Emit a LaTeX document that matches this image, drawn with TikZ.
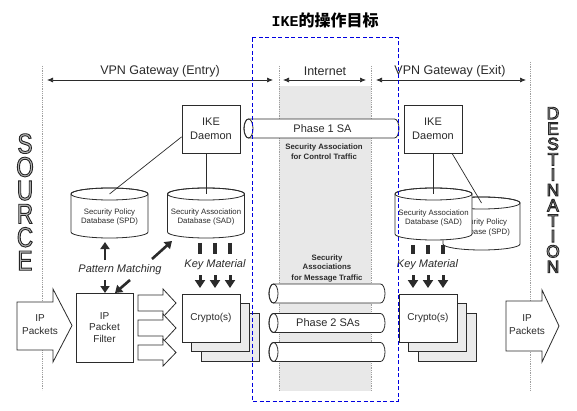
\documentclass[tikz,border=0pt]{standalone}
\usepackage{fontspec}
\setmainfont{Liberation Sans}
\newfontfamily\cjk{Noto Sans CJK SC}
\newfontfamily\monob{Liberation Mono}
\newfontfamily\narrowsans{Liberation Sans}[FakeStretch=0.8]
\usetikzlibrary{arrows.meta}

\definecolor{ink}{HTML}{2B2B2B}
\definecolor{band}{HTML}{E8E8E8}
\definecolor{shade}{HTML}{EBEBEB}
\definecolor{frame}{HTML}{0000E0}

% hollow letters: grey fill, dark stroke
\newcommand{\hollow}[1]{\special{pdf:literal direct 0.15 0.15 0.15 RG 0.9 w 2 Tr}#1\special{pdf:literal direct 0 Tr}}

\tikzset{
  box/.style={draw=ink, fill=white, line width=0.8pt, inner sep=0pt, align=center, text=ink, font=\fontsize{10}{11.5}\selectfont},
  dbtext/.style={inner sep=0pt, align=center, text=ink, font=\fontsize{7.8}{9.4}\selectfont},
  boldnote/.style={inner sep=0pt, align=center, text=ink, font=\bfseries\fontsize{7.8}{10}\selectfont},
  header/.style={text=ink, font=\fontsize{12.5}{14}\selectfont},
  keylabel/.style={text=ink, font=\itshape\fontsize{11}{13}\selectfont},
  span/.style={ink, line width=0.7pt, {Latex[length=6pt,width=5pt]}-{Latex[length=6pt,width=5pt]}},
  border/.style={gray!75, line width=0.8pt, densely dotted},
  heavy/.style={ink, line width=2.6pt, -{Triangle[length=7pt,width=9pt]}},
  keyarrow/.style={ink, line width=3pt, -{Triangle[length=8pt,width=10pt]}},
  keybar/.style={ink, line width=3.5pt},
  fatarrow/.style={draw=ink, fill=white, line width=0.8pt}
}

% database drum: name, centre x, top y, bottom y, two text lines
\newcommand{\dbcyl}[6]{%
  \filldraw[draw=ink, fill=white, line width=0.8pt] (#2-38.5,#3) -- (#2-38.5,#4) arc[start angle=180,end angle=0,x radius=38.5,y radius=6] -- (#2+38.5,#3) arc[start angle=0,end angle=-180,x radius=38.5,y radius=6] -- cycle;
  \draw[ink, line width=0.8pt] (#2,#3) ellipse[x radius=38.5,y radius=6];
  \coordinate (#1 top) at (#2,#3);
  \node[dbtext] (#1) at (#2,{(#3+#4)/2+4}) {#5\\#6};
}
% SA tube: name, left x, right x, centre y, text
\newcommand{\satube}[5]{%
  \filldraw[draw=ink, fill=white, line width=0.8pt] (#2+4.5,#4-9.5) -- (#3-4.5,#4-9.5) arc[start angle=-90,end angle=90,x radius=4.5,y radius=9.5] -- (#2+4.5,#4+9.5) arc[start angle=90,end angle=270,x radius=4.5,y radius=9.5] -- cycle;
  \draw[ink, line width=0.8pt] (#2+4.5,#4) ellipse[x radius=4.5,y radius=9.5];
  \node[text=ink, font=\fontsize{11}{13}\selectfont] (#1) at ({(#2+#3)/2+1},#4) {#5};
}

\begin{document}
\begin{tikzpicture}[x=1pt, y=-1pt]
\useasboundingbox[fill=white] (0,0) rectangle (577,411);

% internet band and borders
\fill[band] (279,86) rectangle (371,391);
\draw[border] (42,66) -- (42,390);
\draw[border] (279,66) -- (279,391);
\draw[border] (371,66) -- (371,391);
\draw[border] (530,62) -- (530,390);

\node[header] (entry) at (160,71) {VPN Gateway (Entry)};
\node[header] (inet) at (325,71) {Internet};
\node[header] (exit) at (450,71) {VPN Gateway (Exit)};
\draw[span] (47,80) -- (273,80);
\draw[span] (283,80) -- (366,80);
\draw[span] (376,80) -- (526,80);

% source / destination
\node[inner sep=0pt, align=center, text=gray!55, font=\narrowsans\fontsize{28}{23.4}\selectfont] (source) at (25,202)
  {\hollow{S}\\\hollow{O}\\\hollow{U}\\\hollow{R}\\\hollow{C}\\\hollow{E}};
\node[inner sep=0pt, align=center, text=gray!55, font=\fontsize{17.5}{15.35}\selectfont] (dest) at (553,190)
  {\hollow{D}\\\hollow{E}\\\hollow{S}\\\hollow{T}\\\hollow{I}\\\hollow{N}\\\hollow{A}\\\hollow{T}\\\hollow{I}\\\hollow{O}\\\hollow{N}};

% IKE daemons
\node[box, minimum width=58, minimum height=48, font=\fontsize{11}{13.5}\selectfont] (ikeL) at (211,129) {IKE\\Daemon};
\node[box, minimum width=58, minimum height=48, font=\fontsize{11}{13.5}\selectfont] (ikeR) at (433,129) {IKE\\Daemon};

% databases
\dbcyl{spdL}{109.5}{194}{232}{Security Policy}{Database (SPD)}
\dbcyl{sadL}{206}{194}{232}{Security Association}{Database (SAD)}
\dbcyl{spdR}{481.5}{203}{244}{Security Policy}{Database (SPD)}
\dbcyl{sadR}{433.5}{194}{234}{Security Association}{Database (SAD)}

\draw[ink, line width=0.7pt] (ikeL.195) -- (spdL top);
\draw[ink, line width=0.7pt] (sadL top |- ikeL.south) -- (sadL top);
\draw[ink, line width=0.7pt] (sadR top |- ikeR.south) -- (sadR top);
\draw[ink, line width=0.7pt] (ikeR.-52) -- (spdR top);

% security associations
\satube{p1}{244}{399}{128.5}{Phase 1 SA}
\node[boldnote] (ctrl) at (324,151.5) {Security Association\\for Control Traffic};
\node[boldnote] (msg) at (327,268) {Security\\Associations\\for Message Traffic};
\satube{p2a}{269}{385}{293.5}{}
\satube{p2b}{269}{385}{323}{Phase 2 SAs}
\satube{p2c}{269}{385}{352}{}

% pattern matching and key material
\node[keylabel] (pm) at (120,270) {Pattern Matching};
\node[keylabel] (kmL) at (215,265) {Key Material};
\node[keylabel] (kmR) at (427.5,265) {Key Material};
\draw[heavy] (105,260) -- (105,242);
\draw[heavy] (152,259) -- (172,241);
\draw[heavy] (105,280) -- (105,293);
\draw[heavy] (130,280) -- (115,293);

\draw[keybar] (200,243) -- (200,254);
\draw[keybar] (215,243) -- (215,254);
\draw[keybar] (230,243) -- (230,254);
\draw[keyarrow] (200,275) -- (200,288);
\draw[keyarrow] (215,275) -- (215,288);
\draw[keyarrow] (230,275) -- (230,288);
\draw[keybar] (413,245) -- (413,254);
\draw[keybar] (428,245) -- (428,254);
\draw[keybar] (443,245) -- (443,254);
\draw[keyarrow] (413,275) -- (413,288);
\draw[keyarrow] (428,275) -- (428,288);
\draw[keyarrow] (443,275) -- (443,288);

% packet path
\draw[fatarrow] (17,302) -- (53,302) -- (53,289) -- (72,325.5) -- (53,362) -- (53,350) -- (17,350) -- cycle;
\node[text=ink, align=center, font=\fontsize{10}{13}\selectfont] (inpk) at (40,325) {IP\\Packets};
\node[box, minimum width=57, minimum height=69] (filter) at (104.5,327.5) {IP\\Packet\\Filter};
\draw[fatarrow] (138,295) -- (163,295) -- (163,289) -- (176,303) -- (163,317) -- (163,311) -- (138,311) -- cycle;
\draw[fatarrow] (138,320) -- (163,320) -- (163,314) -- (176,328) -- (163,342) -- (163,336) -- (138,336) -- cycle;
\draw[fatarrow] (138,345) -- (163,345) -- (163,339) -- (176,352.5) -- (163,366) -- (163,360) -- (138,360) -- cycle;

\node[box, fill=shade, minimum width=58, minimum height=48] (cryL3) at (230,337) {};
\node[box, fill=shade, minimum width=58, minimum height=48] (cryL2) at (220.5,327.5) {};
\node[box, minimum width=58, minimum height=48] (cryL) at (211,318) {Crypto(s)};
\node[box, fill=shade, minimum width=58, minimum height=48] (cryR3) at (447,337) {};
\node[box, fill=shade, minimum width=58, minimum height=48] (cryR2) at (437.5,327.5) {};
\node[box, minimum width=58, minimum height=48] (cryR) at (428,318) {Crypto(s)};

\draw[fatarrow] (506,301) -- (542,301) -- (542,290) -- (559,326) -- (542,362) -- (542,351) -- (506,351) -- cycle;
\node[text=ink, align=center, font=\fontsize{10}{13}\selectfont] (outpk) at (527,325) {IP\\Packets};

% highlighted region and title
\draw[frame, line width=1pt, dash pattern=on 4pt off 2.5pt] (252,38) rectangle (398,401);
\node (title) at (325,20) {{\monob\bfseries\fontsize{15}{17}\selectfont IKE}{\cjk\bfseries\fontsize{16}{18}\selectfont 的操作目标}};
\end{tikzpicture}
\end{document}
